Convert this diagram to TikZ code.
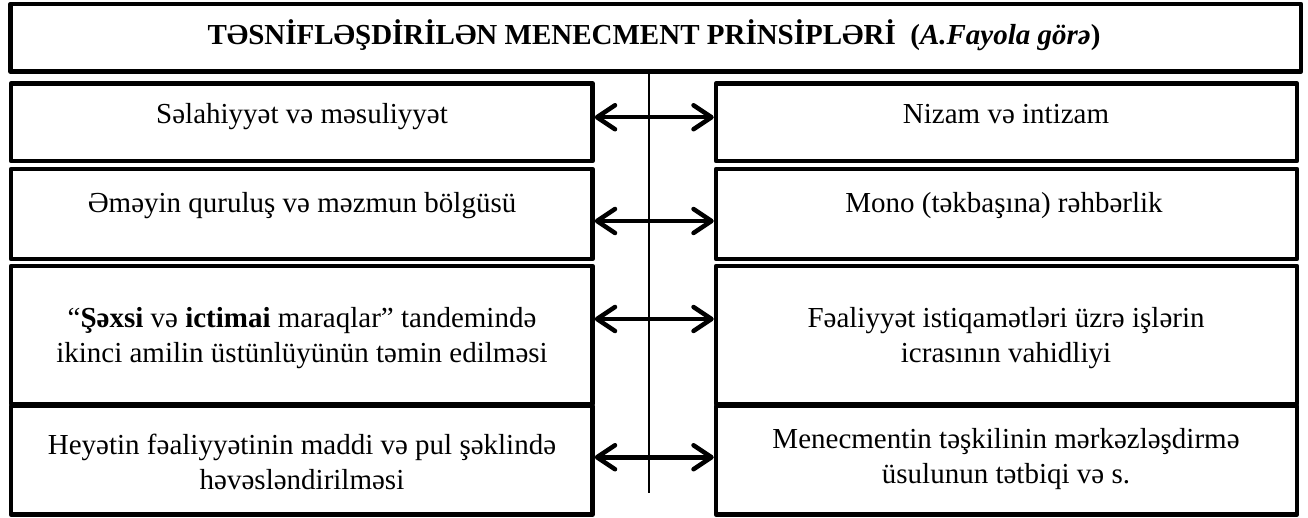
\documentclass[tikz,border=0pt]{standalone}
\usepackage{fontspec}
\setmainfont{LiberationSerif}[Extension=.ttf, UprightFont=*-Regular, BoldFont=*-Bold, ItalicFont=*-Italic, BoldItalicFont=*-BoldItalic]
\usetikzlibrary{arrows.meta}
\begin{document}
\begin{tikzpicture}[x=1pt,y=-1pt,
  box/.style={draw, line width=4.5pt, line join=round, inner sep=0pt},
  lbox/.style={box, minimum width=581.5pt},
  rbox/.style={box, minimum width=581pt},
  txt/.style={font=\fontsize{29}{35}\selectfont, align=center, inner sep=0pt},
  link/.style={line width=4.5pt, line cap=round,
    {Straight Barb[length=18pt,width=24pt,round]}-{Straight Barb[length=18pt,width=24pt,round]}},
  vline/.style={line width=1.5pt}
  ]
\useasboundingbox (0,0) rectangle (1308,518);

% title
\node[box, minimum width=1290.5pt, minimum height=67.5pt] (title) at (655.75,37.75) {};
\node[txt, anchor=base, font=\fontsize{29}{35}\selectfont\bfseries] (ttl) at (654,45)
  {TƏSNİFLƏŞDİRİLƏN MENECMENT PRİNSİPLƏRİ\hspace{0.5em}(\textit{A.Fayola görə})};

% boxes
\node[lbox, minimum height=77.5pt] (L1) at (301.75,122.25) {};
\node[rbox, minimum height=77.5pt] (R1) at (1006.5,122.25) {};
\node[lbox, minimum height=90pt] (L2) at (301.75,214) {};
\node[rbox, minimum height=90pt] (R2) at (1006.5,214) {};
\node[lbox, minimum height=138pt] (L3) at (301.75,335) {};
\node[rbox, minimum height=138pt] (R3) at (1006.5,335) {};
\node[lbox, minimum height=108.5pt] (L4) at (301.75,460.25) {};
\node[rbox, minimum height=108.5pt] (R4) at (1006.5,460.25) {};

% texts
\node[txt, anchor=base] (tL1) at (302,124) {Səlahiyyət və məsuliyyət};
\node[txt, anchor=base] (tR1) at (1006,124) {Nizam və intizam};
\node[txt, anchor=base] (tL2) at (302,213) {Əməyin quruluş və məzmun bölgüsü};
\node[txt, anchor=base] (tR2) at (1004,213) {Mono (təkbaşına) rəhbərlik};
\node[txt] (tL3) at (302,338) {“\textbf{Şəxsi} və \textbf{ictimai} maraqlar” tandemində\\ikinci amilin üstünlüyünün təmin edilməsi};
\node[txt] (tR3) at (1006,338) {Fəaliyyət istiqamətləri üzrə işlərin\\icrasının vahidliyi};
\node[txt] (tL4) at (302,462) {Heyətin fəaliyyətinin maddi və pul şəklində\\həvəsləndirilməsi};
\node[txt] (tR4) at (1006,459) {Menecmentin təşkilinin mərkəzləşdirmə\\üsulunun tətbiqi və s.};

% vertical axis
\coordinate (vend) at (649,493);
\draw[vline] (title.south -| vend) -- (vend);

% arrows
\draw[link] ([yshift=5pt]L1.east) -- ([yshift=5pt]R1.west);
\draw[link] ([yshift=-7pt]L2.east) -- ([yshift=-7pt]R2.west);
\draw[link] ([yshift=16pt]L3.east) -- ([yshift=16pt]R3.west);
\draw[link] ([yshift=3pt]L4.east) -- ([yshift=3pt]R4.west);
\end{tikzpicture}
\end{document}
